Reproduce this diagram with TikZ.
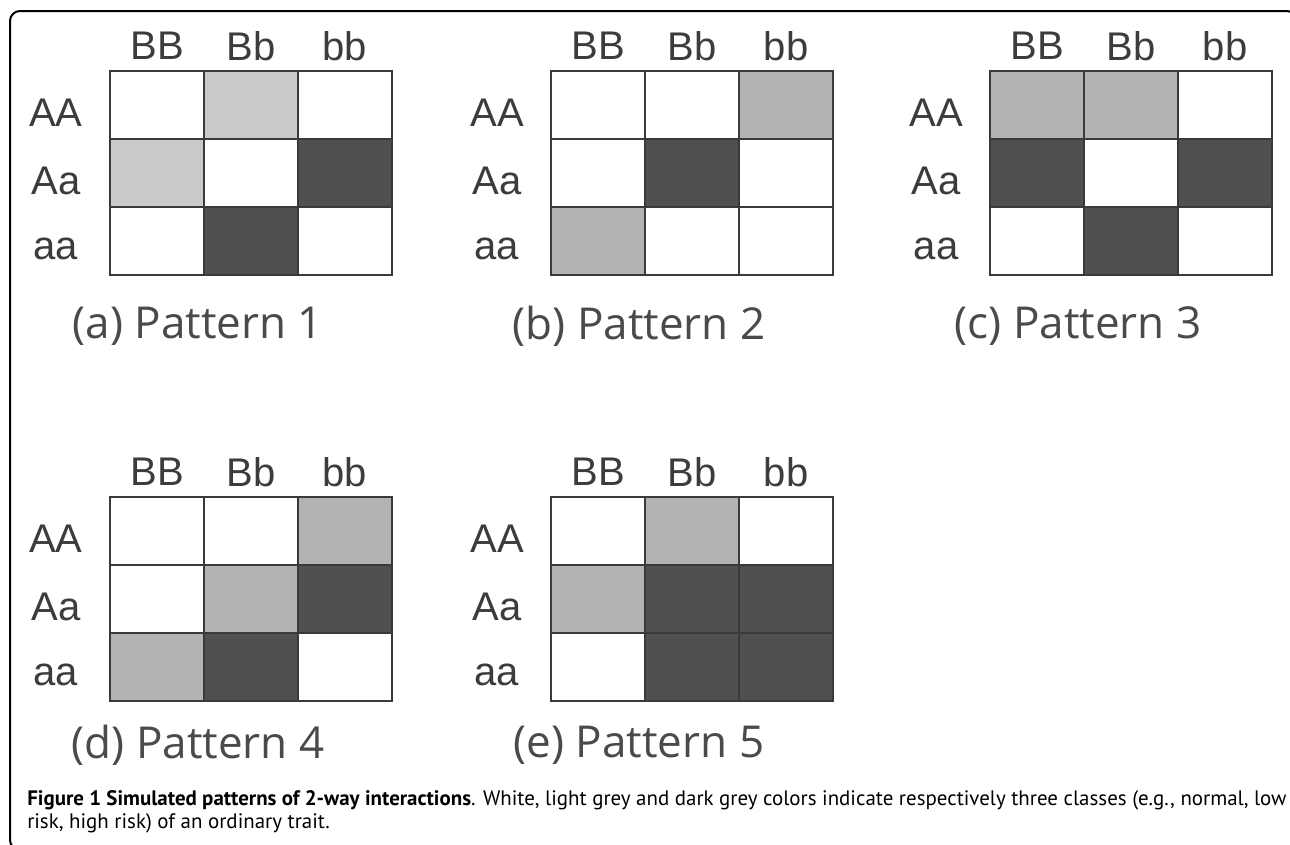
\documentclass[tikz,border=0pt]{standalone}
\usepackage{fontspec}
\setmainfont{PT Sans}
\newfontfamily\gridfont{Liberation Sans}
\newfontfamily\patfont{Open Sans}
\definecolor{cW}{HTML}{FFFFFF}
\definecolor{cL}{HTML}{CACACA}
\definecolor{cM}{HTML}{B3B3B3}
\definecolor{cD}{HTML}{505050}
\definecolor{gridline}{HTML}{3A3A3A}
\definecolor{labelgrey}{HTML}{3C3C3C}
\definecolor{patgrey}{HTML}{4A4A4A}
\tikzset{
  cell/.style={draw=gridline, line width=1.5pt, minimum width=70.5pt, minimum height=51pt, inner sep=0pt, outer sep=0pt, anchor=north west},
  glabel/.style={font=\gridfont\fontsize{30}{32}\selectfont, text=labelgrey, inner sep=0pt},
  plabel/.style={font=\patfont\fontsize{33}{36}\selectfont, text=patgrey, inner sep=0pt},
  caption/.style={font=\fontsize{15.7}{18}\selectfont, anchor=base west, inner sep=0pt},
  frame/.style={draw=black, line width=1.5pt, rounded corners=7.5pt}
}
% #1 name, #2 x, #3 y, #4 nine colours, #5 pattern label, #6 label y
\newcommand{\cellgrid}[6]{%
  \foreach \c [count=\i from 0] in {#4} {
    \pgfmathtruncatemacro\r{int(\i/3)}
    \pgfmathtruncatemacro\k{mod(\i,3)}
    \node[cell, fill=\c] (#1-\r-\k) at ({#2+\k*94},{#3+\r*68}) {};
  }
  \foreach \t [count=\k from 0] in {BB,Bb,bb}
    \node[glabel] (#1-col-\k) at ({#2+47+\k*94},{#3-25}) {\t};
  \foreach \t [count=\r from 0] in {AA,Aa,aa}
    \node[glabel] (#1-row-\r) at ({#2-54},{#3+42+\r*68}) {\t};
  \node[plabel] (#1-title) at ({#2+88},{#6}) {#5};
}
\begin{document}
\begin{tikzpicture}[x=0.75pt,y=-0.75pt]
\useasboundingbox (0,0) rectangle (1290,844);
\fill[white] (0,0) rectangle (1290,844);
\draw[frame] (10,11) rectangle (1297,850);
\cellgrid{a}{110}{71}{cW,cL,cW,cL,cW,cD,cW,cD,cW}{(a) Pattern 1}{326}
\cellgrid{b}{551}{71}{cW,cW,cM,cW,cD,cW,cM,cW,cW}{(b) Pattern 2}{326}
\cellgrid{c}{990}{71}{cM,cM,cW,cD,cW,cD,cW,cD,cW}{(c) Pattern 3}{326}
\cellgrid{d}{110}{497}{cW,cW,cM,cW,cM,cD,cM,cD,cW}{(d) Pattern 4}{745}
\cellgrid{e}{551}{497}{cW,cM,cW,cM,cD,cD,cW,cD,cD}{(e) Pattern 5}{745}
\node[caption] (cap1) at (27,805) {\textbf{Figure 1 Simulated patterns of 2-way interactions}. White, light grey and dark grey colors indicate respectively three classes (e.g., normal, low};
\node[caption] (cap2) at (27,828) {risk, high risk) of an ordinary trait.};
\end{tikzpicture}
\end{document}
